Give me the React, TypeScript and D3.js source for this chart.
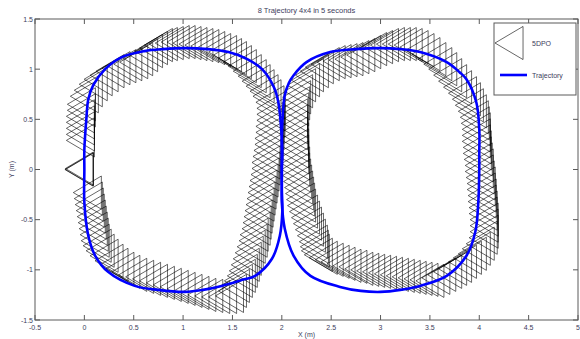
import React from 'react';
import * as d3 from 'd3';

const width = 580;
const height = 339;
const plot = { left: 35, right: 578, top: 19, bottom: 320 };

const title = '8 Trajectory 4x4 in 5 seconds';
const xLabel = 'X (m)';
const yLabel = 'Y (m)';
const legendLabels = ['5DPO', 'Trajectory'];

const xTicks = [-0.5, 0, 0.5, 1, 1.5, 2, 2.5, 3, 3.5, 4, 4.5, 5];
const yTicks = [-1.5, -1, -0.5, 0, 0.5, 1, 1.5];

// reference trajectory (metres)
const leftLoop: [number, number][] = [
  [2.0, 0.0], [2.005, 0.17], [1.99, 0.45], [1.965, 0.67], [1.92, 0.82], [1.8, 1.0],
  [1.65, 1.1], [1.46, 1.17], [1.25, 1.2], [1.02, 1.21], [0.8, 1.2], [0.61, 1.18],
  [0.38, 1.12], [0.21, 1.0], [0.09, 0.84], [0.04, 0.7], [0.02, 0.5], [0.0, 0.2],
  [0.0, 0.0], [0.0, -0.33], [0.04, -0.66], [0.11, -0.86], [0.24, -1.02], [0.51, -1.16],
  [0.75, -1.2], [1.02, -1.22], [1.2, -1.2], [1.39, -1.16], [1.6, -1.1], [1.73, -1.06],
  [1.9, -0.89], [1.98, -0.66], [2.005, -0.42], [2.0, -0.19],
];

const rightLoop: [number, number][] = [
  [2.0, 0.0], [2.0, 0.3], [2.01, 0.55], [2.03, 0.74], [2.07, 0.86], [2.12, 0.94],
  [2.25, 1.07], [2.49, 1.17], [2.75, 1.2], [3.0, 1.21], [3.2, 1.2], [3.4, 1.17],
  [3.67, 1.07], [3.8, 0.97], [3.87, 0.9], [3.97, 0.67], [4.0, 0.4], [4.0, 0.17],
  [4.0, 0.0], [3.99, -0.33], [3.96, -0.62], [3.87, -0.86], [3.67, -1.06], [3.4, -1.16],
  [3.2, -1.2], [3.0, -1.22], [2.8, -1.21], [2.59, -1.17], [2.29, -1.06], [2.12, -0.86],
  [2.03, -0.59], [2.0, -0.33], [2.0, -0.15],
];

// robot poses (centre of the drawn triangle) (metres)
const robotPoses: [number, number][] = [
  // left loop
  [-0.04, 0.29], [-0.04, 0.35], [-0.04, 0.41], [-0.04, 0.47], [-0.04, 0.53], [-0.03, 0.59],
  [-0.03, 0.65], [0.0, 0.73], [0.04, 0.79], [0.09, 0.85], [0.14, 0.9], [0.2, 0.94],
  [0.26, 0.98], [0.32, 1.01], [0.38, 1.03], [0.44, 1.05], [0.5, 1.07], [0.55, 1.1],
  [0.6, 1.14], [0.65, 1.18], [0.7, 1.21], [0.75, 1.24], [0.8, 1.25], [0.86, 1.26],
  [0.92, 1.27], [0.98, 1.27], [1.04, 1.26], [1.1, 1.25], [1.16, 1.24], [1.22, 1.23],
  [1.28, 1.21], [1.34, 1.19], [1.4, 1.17], [1.45, 1.14], [1.5, 1.11], [1.55, 1.07],
  [1.6, 1.03], [1.65, 0.98], [1.7, 0.93], [1.74, 0.88], [1.78, 0.83], [1.82, 0.78],
  [1.85, 0.73], [1.88, 0.67], [1.89, 0.61], [1.89, 0.55], [1.89, 0.49], [1.88, 0.43],
  [1.88, 0.37], [1.87, 0.31], [1.87, 0.25], [1.86, 0.19], [1.85, 0.13], [1.84, 0.07],
  [1.84, 0.01], [1.83, -0.05], [1.82, -0.11], [1.81, -0.17], [1.8, -0.23], [1.79, -0.29],
  [1.78, -0.35], [1.77, -0.41], [1.76, -0.47], [1.75, -0.53], [1.74, -0.59], [1.72, -0.65],
  [1.71, -0.71], [1.69, -0.77], [1.67, -0.83], [1.65, -0.89], [1.63, -0.95], [1.61, -1.01],
  [1.59, -1.06], [1.56, -1.11], [1.53, -1.16], [1.5, -1.21], [1.47, -1.26], [1.4, -1.27],
  [1.33, -1.27], [1.26, -1.26], [1.19, -1.25], [1.12, -1.23], [1.05, -1.21], [0.98, -1.19],
  [0.91, -1.17], [0.84, -1.15], [0.77, -1.13], [0.7, -1.11], [0.63, -1.09], [0.56, -1.07],
  [0.49, -1.05], [0.42, -1.02], [0.36, -0.99], [0.3, -0.95], [0.25, -0.91], [0.2, -0.86],
  [0.16, -0.81], [0.13, -0.76], [0.11, -0.71], [0.1, -0.65], [0.09, -0.59], [0.08, -0.53],
  [0.07, -0.47], [0.06, -0.41], [0.05, -0.35], [0.04, -0.29], [0.03, -0.23], [-0.05, 0.0],
  [-0.055, 0.0], [-0.05, 0.01],
  // right loop
  [2.32, -0.72], [2.3, -0.66], [2.28, -0.6], [2.26, -0.54], [2.24, -0.48], [2.22, -0.42],
  [2.2, -0.36], [2.19, -0.3], [2.18, -0.24], [2.17, -0.18], [2.16, -0.12], [2.15, -0.06],
  [2.14, 0.0], [2.14, 0.06], [2.13, 0.12], [2.13, 0.18], [2.13, 0.24], [2.13, 0.3],
  [2.12, 0.36], [2.12, 0.42], [2.12, 0.48], [2.12, 0.54], [2.13, 0.6], [2.14, 0.66],
  [2.15, 0.72], [2.17, 0.78], [2.2, 0.84], [2.24, 0.89], [2.28, 0.94], [2.33, 0.98],
  [2.38, 1.02], [2.44, 1.05], [2.5, 1.07], [2.56, 1.08], [2.62, 1.09], [2.68, 1.1],
  [2.74, 1.12], [2.8, 1.14], [2.86, 1.17], [2.92, 1.2], [2.98, 1.22], [3.04, 1.24],
  [3.1, 1.25], [3.16, 1.25], [3.22, 1.25], [3.28, 1.24], [3.34, 1.22], [3.4, 1.19],
  [3.46, 1.15], [3.52, 1.1], [3.58, 1.05], [3.63, 1.0], [3.68, 0.94], [3.73, 0.88],
  [3.78, 0.82], [3.83, 0.76], [3.87, 0.7], [3.9, 0.64], [3.93, 0.58], [3.95, 0.52],
  [3.96, 0.46], [3.97, 0.4], [3.97, 0.34], [3.97, 0.28], [3.98, 0.22], [3.98, 0.16],
  [3.99, 0.1], [4.0, 0.04], [4.0, -0.02], [4.01, -0.08], [4.02, -0.14], [4.02, -0.2],
  [4.03, -0.26], [4.03, -0.32], [4.04, -0.38], [4.04, -0.44], [4.05, -0.5], [4.05, -0.56],
  [4.05, -0.62], [4.04, -0.68], [4.01, -0.74], [3.97, -0.79], [3.93, -0.84], [3.88, -0.88],
  [3.83, -0.92], [3.78, -0.96], [3.73, -0.99], [3.68, -1.02], [3.62, -1.05], [3.56, -1.08],
  [3.5, -1.11], [3.44, -1.1], [3.38, -1.09], [3.32, -1.08], [3.26, -1.07], [3.2, -1.06],
  [3.14, -1.05], [3.08, -1.04], [3.02, -1.03], [2.96, -1.02], [2.9, -1.01], [2.84, -1.0],
  [2.78, -0.99], [2.72, -0.97], [2.66, -0.96], [2.6, -0.94], [2.54, -0.92], [2.48, -0.9],
  [2.42, -0.88], [2.37, -0.85], [2.34, -0.81], [2.33, -0.77],
];

// robot outline relative to its pose, metres: nose pointing -x
const robotShape: [number, number][] = [[-0.142, 0], [0.142, 0.165], [0.142, -0.165]];

const font = 'Liberation Sans, Arial, Helvetica, sans-serif';
const textColor = '#3d3d5c';
const axisColor = '#5a5a5a';

export default function App() {
  const x = d3.scaleLinear().domain([-0.5, 5]).range([plot.left, plot.right]);
  const y = d3.scaleLinear().domain([-1.5, 1.5]).range([plot.bottom, plot.top]);

  const traj = d3
    .line<[number, number]>()
    .x(d => x(d[0]))
    .y(d => y(d[1]))
    .curve(d3.curveCatmullRomClosed.alpha(0.5));

  const tri = d3
    .line<[number, number]>()
    .x(d => d[0])
    .y(d => d[1])
    .curve(d3.curveLinearClosed);

  const robotPath = (p: [number, number]) =>
    tri(robotShape.map(s => [x(p[0] + s[0]), y(p[1] + s[1])] as [number, number]));

  // legend
  const lg = { x: 494, y: 23, w: 82, h: 72 };
  const triW = x(robotShape[1][0]) - x(robotShape[0][0]);
  const triH = y(0) - y(robotShape[1][1]);
  const legTri = tri([
    [lg.x + 1, lg.y + 20],
    [lg.x + 1 + triW, lg.y + 20 - triH],
    [lg.x + 1 + triW, lg.y + 20 + triH],
  ]);

  const tick = 5;

  return (
    <svg
      width={width}
      height={height}
      style={{ position: 'absolute', left: 0, top: 0, background: '#fff' }}
      fontFamily={font}
    >
      <rect x={0} y={0} width={width} height={height} fill="#fff" />

      <g fill="none" stroke="#000" strokeWidth={0.6}>
        {robotPoses.map((p, i) => (
          <path key={i} d={robotPath(p) || ''} />
        ))}
      </g>

      <g fill="none" stroke="#0000ff" strokeWidth={2.6} strokeLinejoin="round">
        <path d={traj(leftLoop) || ''} />
        <path d={traj(rightLoop) || ''} />
      </g>

      <rect
        x={plot.left}
        y={plot.top}
        width={plot.right - plot.left}
        height={plot.bottom - plot.top}
        fill="none"
        stroke={axisColor}
        strokeWidth={1}
      />
      <g stroke={axisColor} strokeWidth={1}>
        {xTicks.map(t => (
          <g key={'x' + t}>
            <line x1={x(t)} x2={x(t)} y1={plot.bottom} y2={plot.bottom - tick} />
            <line x1={x(t)} x2={x(t)} y1={plot.top} y2={plot.top + tick} />
          </g>
        ))}
        {yTicks.map(t => (
          <g key={'y' + t}>
            <line x1={plot.left} x2={plot.left + tick} y1={y(t)} y2={y(t)} />
            <line x1={plot.right} x2={plot.right - tick} y1={y(t)} y2={y(t)} />
          </g>
        ))}
      </g>

      <g fill={textColor} fontSize={7}>
        {xTicks.map(t => (
          <text key={'xl' + t} x={x(t)} y={plot.bottom + 10} textAnchor="middle">
            {String(t)}
          </text>
        ))}
        {yTicks.map(t => (
          <text key={'yl' + t} x={plot.left - 2} y={y(t) + 2.5} textAnchor="end">
            {String(t)}
          </text>
        ))}
        <text x={(plot.left + plot.right) / 2} y={height - 2} textAnchor="middle">
          {xLabel}
        </text>
        <text
          transform={`translate(14,${(plot.top + plot.bottom) / 2}) rotate(-90)`}
          textAnchor="middle"
        >
          {yLabel}
        </text>
        <text x={(plot.left + plot.right) / 2} y={13} textAnchor="middle" fontSize={7.5}>
          {title}
        </text>
      </g>

      <g>
        <rect x={lg.x} y={lg.y} width={lg.w} height={lg.h} fill="#fff" stroke={axisColor} strokeWidth={1} />
        <path d={legTri || ''} fill="none" stroke="#000" strokeWidth={0.6} />
        <line x1={lg.x + 6} x2={lg.x + 33} y1={lg.y + 52} y2={lg.y + 52} stroke="#0000ff" strokeWidth={2.6} />
        <text x={lg.x + 38} y={lg.y + 22.5} fontSize={7} fill={textColor}>
          {legendLabels[0]}
        </text>
        <text x={lg.x + 38} y={lg.y + 54.5} fontSize={7} fill={textColor}>
          {legendLabels[1]}
        </text>
      </g>
    </svg>
  );
}
